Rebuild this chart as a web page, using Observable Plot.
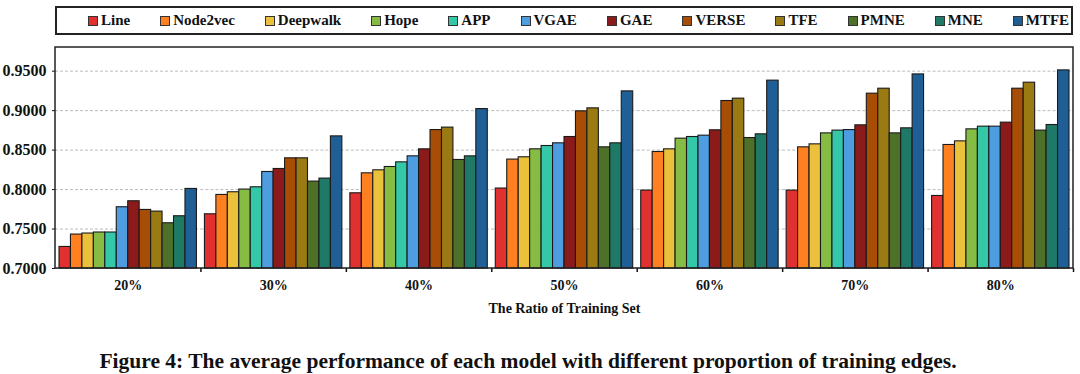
<!DOCTYPE html>
<html><head><meta charset="utf-8">
<script src="https://cdn.jsdelivr.net/npm/d3@7"></script>
<script src="https://cdn.jsdelivr.net/npm/@observablehq/plot@0.6"></script>
<style>
body{margin:0;background:#fff;font-family:"Liberation Serif",serif;color:#111;}
#wrap{position:relative;width:1080px;height:374px;overflow:hidden;}
#legend{position:absolute;left:55px;top:6px;width:1018px;height:29px;box-sizing:border-box;border:2px solid #222;display:flex;align-items:center;gap:30px;padding-left:31px;font-weight:bold;font-size:15px;}
.item{display:flex;align-items:center;white-space:nowrap;}
.sw{width:8px;height:8px;border:1px solid #333;margin-right:3px;}
#chart{position:absolute;left:0;top:40px;}
#caption{position:absolute;left:-12px;top:349px;width:1080px;text-align:center;font-weight:bold;font-size:21.5px;}
</style></head>
<body><div id="wrap"><div id="legend"></div><div id="chart"></div><div id="caption">Figure 4: The average performance of each model with different proportion of training edges.</div></div>
<script>
const groups = ["20%","30%","40%","50%","60%","70%","80%"];
const models = ["Line","Node2vec","Deepwalk","Hope","APP","VGAE","GAE","VERSE","TFE","PMNE","MNE","MTFE"];
const colors = ["#e03030","#ff8021","#ebc03a","#86bc44","#34c8a8","#4d9de0","#8b1a1a","#a84d05","#9a7a12","#4e7129","#1e7a66","#1f5f95"];
const v20 = [0.7273,0.7430,0.7443,0.7456,0.7456,0.7776,0.7852,0.7742,0.7721,0.7573,0.7662,0.8008];
const v30 = [0.7687,0.7932,0.7966,0.8000,0.8029,0.8223,0.8261,0.8396,0.8396,0.8101,0.8139,0.8674];
const v40 = [0.7953,0.8206,0.8244,0.8286,0.8345,0.8421,0.8510,0.8754,0.8785,0.8375,0.8421,0.9020];
const v50 = [0.8013,0.8380,0.8409,0.8510,0.8552,0.8586,0.8666,0.8991,0.9029,0.8535,0.8586,0.9244];
const v60 = [0.7987,0.8476,0.8510,0.8645,0.8666,0.8683,0.8751,0.9122,0.9152,0.8653,0.8700,0.9380];
const v70 = [0.7987,0.8535,0.8573,0.8712,0.8747,0.8754,0.8814,0.9215,0.9278,0.8712,0.8776,0.9459];
const v80 = [0.7919,0.8565,0.8611,0.8763,0.8797,0.8797,0.8848,0.9278,0.9354,0.8747,0.8818,0.9510];
const yTicks = [0.70,0.75,0.80,0.85,0.90,0.95];
const yDomain = [0.70,0.98];
const xTitle = "The Ratio of Training Set";

const series = [v20,v30,v40,v50,v60,v70,v80];
const data = [];
groups.forEach((g,i)=>models.forEach((m,j)=>data.push({group:g, model:m, value:series[i][j]})));

const W=1080, H=300, mL=55, mR=7, mT=7, mB=72;
const step = (W-mL-mR)/groups.length;

const plot = Plot.plot({
  width:W, height:H, marginTop:mT, marginBottom:mB, marginLeft:mL, marginRight:mR,
  style:{fontFamily:"Liberation Serif", fontWeight:"bold", fontSize:"15px", color:"#111", background:"#fff", overflow:"visible"},
  fx:{domain:groups, padding:0, round:false},
  x:{domain:models, paddingInner:0, paddingOuter:0.35, round:false, axis:null},
  y:{domain:yDomain},
  color:{domain:models, range:colors},
  marks:[
    Plot.gridY(yTicks,{stroke:"#bbb", strokeOpacity:1, strokeDasharray:"3,2"}),
    Plot.barY(data,{fx:"group", x:"model", y1:()=>yDomain[0], y2:"value", fill:"model", stroke:"#1a1a1a", strokeWidth:1.1}),
    Plot.axisY(yTicks,{tickFormat:d3.format(".4f"), tickSize:3, fontSize:16, label:null}),
    Plot.axisFx({anchor:"bottom", tickSize:0, tickPadding:12, fontSize:14, label:xTitle, labelAnchor:"center", labelOffset:44}),
    Plot.axisFx({anchor:"bottom", text:null, tickSize:4, dx:step/2, label:null, strokeWidth:1.5})
  ]
});
d3.select(plot).append("rect").attr("x",mL).attr("y",mT).attr("width",W-mL-mR).attr("height",H-mT-mB)
  .attr("fill","none").attr("stroke","#222").attr("stroke-width",1.5);
document.getElementById("chart").appendChild(plot);

const color = plot.scale("color");
const lg = d3.select("#legend");
models.forEach(m=>{
  const it = lg.append("div").attr("class","item");
  it.append("div").attr("class","sw").style("background",colors[color.domain.indexOf(m)]);
  it.append("span").text(m);
});
</script></body></html>
